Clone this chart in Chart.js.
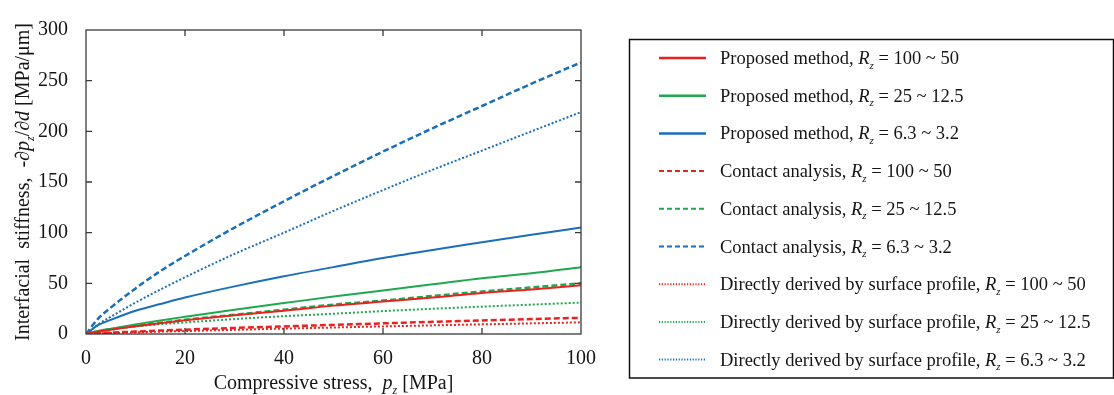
<!DOCTYPE html>
<html>
<head>
<meta charset="utf-8">
<script src="https://cdn.jsdelivr.net/npm/chart.js@4/dist/chart.umd.min.js"></script>
<style>
  html, body { margin: 0; padding: 0; background: #fff; }
  #wrap { width: 1114px; height: 395px; }
</style>
</head>
<body>
<div id="wrap"><canvas id="chart" width="1114" height="395"></canvas></div>
<script>
// compressive stress p_z [MPa]
const stress = [0, 2.5, 5, 10, 15, 20, 30, 40, 50, 60, 70, 80, 90, 100];

// proposed method
const proposedR100 = [0, 2.6, 4.3, 7.7, 10.7, 13.5, 18.5, 23, 28, 32, 36, 40.5, 44, 48];
const proposedR25 = [0, 3.0, 5.3, 9.5, 13.4, 17, 24, 30.5, 37, 43, 49, 55, 60, 66];
const proposedR6 = [0, 8.9, 14, 23, 29.6, 36, 47, 57, 66, 75, 83, 90.5, 98, 105];

// contact analysis
const contactR100 = [0, 0.8, 1.4, 2.4, 3.4, 4.3, 6, 7.5, 9, 10.5, 12, 13.3, 14.7, 16];
const contactR25 = [0, 2.6, 4.5, 8, 11, 14, 19, 24, 29, 33, 37.5, 42, 46, 50];
const contactR6 = [0, 15.4, 26, 45, 62, 77, 105, 131, 156, 180, 203, 225, 247, 268];

// directly derived by surface profile
const directR100 = [0, 0.5, 0.9, 1.6, 2.3, 2.9, 4.1, 5.3, 6.4, 7.5, 8.5, 9.5, 10.5, 11.5];
const directR25 = [0, 3.1, 4.8, 7.4, 9.6, 11.4, 14.7, 17.6, 20, 22.6, 24.9, 27, 29, 31];
const directR6 = [0, 9.5, 17, 31, 43.8, 56, 79, 100, 121.5, 142, 162, 181, 200, 219];

const methods = ['Proposed method', 'Contact analysis', 'Directly derived by surface profile'];
const ranges = ['100 ~ 50', '25 ~ 12.5', '6.3 ~ 3.2'];
const xTicks = [0, 20, 40, 60, 80, 100];
const yTicks = [0, 50, 100, 150, 200, 250, 300];

const RED = '#e8221e', GREEN = '#1fa84f', BLUE = '#1a6fb8';
const SERIF = '"Liberation Serif", "Times New Roman", serif';

const series = [
  { m: 0, r: 0, v: proposedR100, c: RED, dash: [], w: 2 },
  { m: 0, r: 1, v: proposedR25, c: GREEN, dash: [], w: 2 },
  { m: 0, r: 2, v: proposedR6, c: BLUE, dash: [], w: 2 },
  { m: 1, r: 0, v: contactR100, c: RED, dash: [6, 3], w: 2.5 },
  { m: 1, r: 1, v: contactR25, c: GREEN, dash: [6, 3], w: 2.5 },
  { m: 1, r: 2, v: contactR6, c: BLUE, dash: [6, 3], w: 2.5 },
  { m: 2, r: 0, v: directR100, c: RED, dash: [2, 2], w: 2 },
  { m: 2, r: 1, v: directR25, c: GREEN, dash: [2, 2], w: 2 },
  { m: 2, r: 2, v: directR6, c: BLUE, dash: [2, 2], w: 2 }
];

const datasets = series.map(s => ({
  label: methods[s.m] + ', Rz = ' + ranges[s.r],
  data: stress.map((x, i) => ({ x: x, y: s.v[i] })),
  borderColor: s.c,
  borderDash: s.dash,
  borderWidth: s.w,
  pointRadius: 0,
  fill: false,
  cubicInterpolationMode: 'monotone'
}));

function fontFor(p, size) {
  const sz = p.sub ? Math.round(size * 0.62) : size;
  return (p.italic ? 'italic ' : '') + sz + 'px ' + SERIF;
}

function richText(ctx, parts, x, y, size, align) {
  let w = 0;
  parts.forEach(p => { ctx.font = fontFor(p, size); w += ctx.measureText(p.t).width; });
  let cx = align === 'center' ? x - w / 2 : x;
  parts.forEach(p => {
    ctx.font = fontFor(p, size);
    ctx.fillText(p.t, cx, y + (p.sub ? size * 0.25 : 0));
    cx += ctx.measureText(p.t).width;
  });
}

// frame, inward ticks, axis titles, legend box
const decor = {
  id: 'decor',
  afterDatasetsDraw(chart) {
    const ctx = chart.ctx;
    const a = chart.chartArea;
    const xs = chart.scales.x, ys = chart.scales.y;
    ctx.save();
    ctx.strokeStyle = '#3a3a3a';
    ctx.lineWidth = 1.3;
    ctx.strokeRect(a.left, a.top, a.right - a.left, a.bottom - a.top);
    ctx.beginPath();
    xTicks.slice(1, -1).forEach(v => {
      const px = xs.getPixelForValue(v);
      ctx.moveTo(px, a.bottom); ctx.lineTo(px, a.bottom - 6);
      ctx.moveTo(px, a.top); ctx.lineTo(px, a.top + 6);
    });
    yTicks.slice(1, -1).forEach(v => {
      const py = ys.getPixelForValue(v);
      ctx.moveTo(a.left, py); ctx.lineTo(a.left + 6, py);
      ctx.moveTo(a.right, py); ctx.lineTo(a.right - 6, py);
    });
    ctx.stroke();

    // axis titles
    ctx.fillStyle = '#151515';
    ctx.textBaseline = 'alphabetic';
    richText(ctx, [
      { t: 'Compressive stress,  ' },
      { t: 'p', italic: true },
      { t: 'z', italic: true, sub: true },
      { t: ' [MPa]' }
    ], (a.left + a.right) / 2, 389, 20, 'center');

    ctx.save();
    ctx.translate(29, (a.top + a.bottom) / 2);
    ctx.rotate(-Math.PI / 2);
    richText(ctx, [
      { t: 'Interfacial  stiffness,  -\u2202' },
      { t: 'p', italic: true },
      { t: 'z', italic: true, sub: true },
      { t: '/\u2202' },
      { t: 'd', italic: true },
      { t: ' [MPa/\u03bcm]' }
    ], 0, 0, 20, 'center');
    ctx.restore();

    // legend
    ctx.strokeStyle = '#111';
    ctx.lineWidth = 1.5;
    ctx.strokeRect(629.5, 39.5, 484, 338.5);
    series.forEach((s, i) => {
      const y = 58 + i * 37.7;
      ctx.beginPath();
      ctx.strokeStyle = s.c;
      ctx.lineWidth = s.dash.length ? 2 : 2.5;
      ctx.setLineDash(s.dash.length ? (s.m === 1 ? [5, 3] : [1.2, 1.6]) : []);
      ctx.moveTo(659, y); ctx.lineTo(706, y);
      ctx.stroke();
      ctx.setLineDash([]);
      ctx.fillStyle = '#151515';
      richText(ctx, [
        { t: methods[s.m] + ', ' },
        { t: 'R', italic: true },
        { t: 'z', italic: true, sub: true },
        { t: ' = ' + ranges[s.r] }
      ], 720, y + 6, 18.5, 'left');
    });
    ctx.restore();
  }
};

new Chart(document.getElementById('chart'), {
  type: 'line',
  data: { datasets: datasets },
  plugins: [decor],
  options: {
    responsive: false,
    animation: false,
    layout: { padding: { left: 0, top: 22, right: 533, bottom: 0 } },
    plugins: { legend: { display: false }, tooltip: { enabled: false } },
    scales: {
      x: {
        type: 'linear', min: 0, max: 100,
        afterFit: s => { s.height = 61; },
        afterBuildTicks: s => { s.ticks = xTicks.map(v => ({ value: v })); },
        grid: { display: false, drawTicks: false },
        border: { display: false },
        ticks: { padding: 13, color: '#151515', font: { family: SERIF, size: 20 } }
      },
      y: {
        min: 0, max: 300,
        afterFit: s => { s.width = 86; },
        afterBuildTicks: s => { s.ticks = yTicks.map(v => ({ value: v })); },
        grid: { display: false, drawTicks: false },
        border: { display: false },
        ticks: { padding: 18, color: '#151515', font: { family: SERIF, size: 20 } }
      }
    }
  }
});
</script>
</body>
</html>
